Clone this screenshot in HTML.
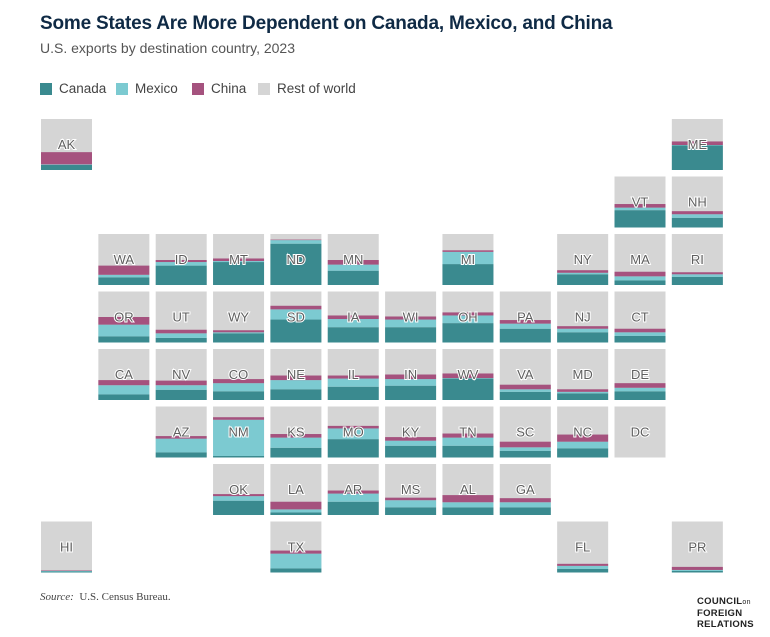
<!DOCTYPE html>
<html><head><meta charset="utf-8">
<style>
body{margin:0;background:#fff;width:770px;height:637px;overflow:hidden;font-family:"Liberation Sans",sans-serif;position:relative}
.t{position:absolute;left:40px;top:13px;font-size:19px;font-weight:bold;color:#0f2a45;letter-spacing:-0.2px}
.s{position:absolute;left:40px;top:40px;font-size:14px;color:#555}
.lg{position:absolute;top:81px;font-size:13.5px;color:#444;display:flex;align-items:center}
.lg i{display:inline-block;width:12px;height:12px;margin-right:7px}
.src{position:absolute;left:40px;top:591px;font-family:"Liberation Serif",serif;font-size:11px;color:#444}
.logo{position:absolute;left:697px;top:596px;font-size:9.5px;line-height:11px;color:#222;font-weight:bold;letter-spacing:0.3px}
svg{position:absolute;left:0;top:0}
</style></head><body>
<div class="t">Some States Are More Dependent on Canada, Mexico, and China</div>
<div class="s">U.S. exports by destination country, 2023</div>
<div class="lg" style="left:40px"><i style="background:#3a8a8f"></i>Canada</div>
<div class="lg" style="left:116px"><i style="background:#7ccad1"></i>Mexico</div>
<div class="lg" style="left:192px"><i style="background:#a5527e"></i>China</div>
<div class="lg" style="left:258px"><i style="background:#d5d5d5"></i>Rest of world</div>
<svg id="map" width="770" height="637"></svg>
<div class="src"><i>Source:</i>&nbsp; U.S. Census Bureau.</div>
<div class="logo">COUNCIL<span style="font-size:7px;font-weight:normal">on</span><br>FOREIGN<br>RELATIONS</div>
<script>
const states=["AK","ME","VT","NH","WA","ID","MT","ND","MN","MI","NY","MA","RI","OR","UT","WY","SD","IA","WI","OH","PA","NJ","CT","CA","NV","CO","NE","IL","IN","WV","VA","MD","DE","AZ","NM","KS","MO","KY","TN","SC","NC","DC","OK","LA","AR","MS","AL","GA","HI","TX","FL","PR"];
const cols=[0,11,10,11,1,2,3,4,5,7,9,10,11,1,2,3,4,5,6,7,8,9,10,1,2,3,4,5,6,7,8,9,10,2,3,4,5,6,7,8,9,10,3,4,5,6,7,8,0,4,9,11];
const rows=[0,0,1,1,2,2,2,2,2,2,2,2,2,3,3,3,3,3,3,3,3,3,3,4,4,4,4,4,4,4,4,4,4,5,5,5,5,5,5,5,5,5,6,6,6,6,6,6,7,7,7,7];
const canada=[10,48,34,19,15,38,45,81,28,41,21,9,16,12,9,18,45,30,30,38,27,20,13,11,20,17,21,26,28,42,16,13,17,10,3,19,36,23,23,13,18,0,28,5,26,15,15,15,2,8,7,3];
const mexico=[1,1,5,7,5,7,2,7,12,24,3,8,5,23,9,2,20,16,15,15,10,7,7,18,9,16,18,16,13,1,5,3,7,27,71,20,21,10,16,7,13,0,9,6,16,14,10,10,1,29,6,2];
const china=[24,7,7,6,18,4,5,1,9,3,5,9,4,15,7,4,7,7,6,6,7,5,7,10,9,8,9,6,9,9,9,5,9,5,5,7,5,7,8,11,14,0,4,15,6,5,14,8,1,6,4,6];
const svg=document.getElementById('map');
const NS="http://www.w3.org/2000/svg";
const X0=41,Y0=119,STEP_X=57.35,STEP_Y=57.5,S=51;
const xPos=c=>X0+c*STEP_X, yPos=r=>Y0+r*STEP_Y, h=v=>v/100*S;
function rect(x,y,w,hh,fill,name){const r=document.createElementNS(NS,'rect');r.setAttribute('x',x);r.setAttribute('y',y);r.setAttribute('width',w);r.setAttribute('height',Math.max(0,hh));r.setAttribute('fill',fill);


svg.appendChild(r);return r;}
states.forEach((st,i)=>{
  const x=xPos(cols[i]),y=yPos(rows[i]);
  rect(x,y,S,S,'#d5d5d5','tile-'+st.toLowerCase());
  let b=y+S;
  const hc=h(canada[i]);rect(x,b-hc,S,hc,'#3a8a8f','bar-canada-'+st.toLowerCase());b-=hc;
  const hm=h(mexico[i]);rect(x,b-hm,S,hm,'#7ccad1','bar-mexico-'+st.toLowerCase());b-=hm;
  const hn=h(china[i]);rect(x,b-hn,S,hn,'#a5527e','bar-china-'+st.toLowerCase());
  const t=document.createElementNS(NS,'text');
  t.setAttribute('x',x+S/2);t.setAttribute('y',y+30);t.setAttribute('text-anchor','middle');
  t.setAttribute('font-size','13');t.setAttribute('fill','#5f5f5f');t.setAttribute('stroke','#fff');t.setAttribute('stroke-width','2');t.setAttribute('paint-order','stroke');
  t.setAttribute('font-family','Liberation Sans, sans-serif');
  t.textContent=st;
  
  
  svg.appendChild(t);
});
</script>
</body></html>
